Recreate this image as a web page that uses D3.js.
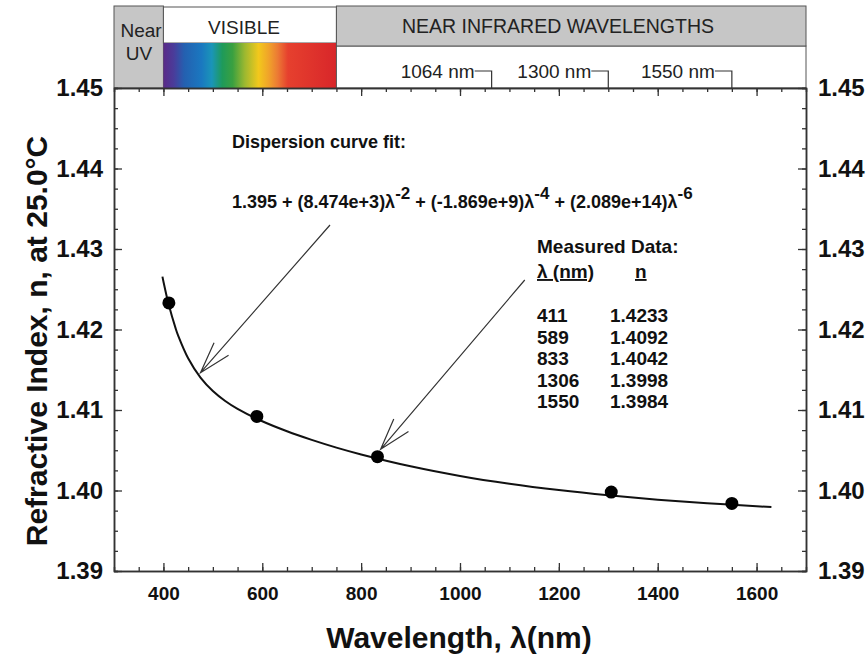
<!DOCTYPE html>
<html>
<head>
<meta charset="utf-8">
<title>Refractive index dispersion</title>
<script src="https://d3js.org/d3.v7.min.js"></script>
<style>
  body { margin: 0; background: #fff; }
  svg { display: block; font-family: Arial, "Liberation Sans", sans-serif; }
  .axis path, .axis line { stroke: #333; }
  .axis path { stroke-width: 1.5; }
  .axis line { stroke-width: 1.3; }
  .bold { font-weight: bold; fill: #111; }
</style>
</head>
<body>
<svg width="866" height="661"></svg>
<script>
// measured points (from the table)
let measWl = [411, 589, 833, 1306, 1550];
let measN = [1.4233, 1.4092, 1.4042, 1.3998, 1.3984];

// fitted dispersion curve
let curveWl = [398, 400, 410, 425, 430, 450, 475, 500, 525, 550, 600, 650, 700, 750, 800, 900, 1000, 1100, 1200, 1300, 1400, 1500, 1600, 1630];
let curveN = [1.42657, 1.42596, 1.42325, 1.42008, 1.41921, 1.41643, 1.41403, 1.41236, 1.41112, 1.41014, 1.40860, 1.40736, 1.40629, 1.40533, 1.40448, 1.40301, 1.40181, 1.40084, 1.40005, 1.39940, 1.39886, 1.39842, 1.39804, 1.39794];

let xTicks = [400, 600, 800, 1000, 1200, 1400, 1600];
let yTicks = [1.39, 1.40, 1.41, 1.42, 1.43, 1.44, 1.45];
let laserLines = [1064, 1300, 1550];

let svg = d3.select('svg');
let margin = {top: 88, bottom: 90, left: 114, right: 60};
let W = 866, H = 661;
let bandTop = 6;

let x = d3.scaleLinear().domain([300, 1700]).range([margin.left, W - margin.right]);
let y = d3.scaleLinear().domain([1.39, 1.45]).range([H - margin.bottom, margin.top]);

// ---- spectrum band on top ----
let defs = svg.append('defs');
let grad = defs.append('linearGradient').attr('id', 'spec');
[['0%', '#5a2a88'], ['6%', '#4a3c9a'], ['12%', '#2460b0'], ['22%', '#1a78c0'], ['28%', '#1a95b8'],
 ['34%', '#1e9a5a'], ['40%', '#3aa040'], ['47%', '#9cb830'], ['55%', '#f2c81c'], ['61%', '#f0a22a'],
 ['66%', '#ec7a34'], ['72%', '#e6402e'], ['100%', '#d8262a']]
  .forEach(s => grad.append('stop').attr('offset', s[0]).attr('stop-color', s[1]));

let band = svg.append('g');
band.append('rect')
  .attr('x', x(300)).attr('y', bandTop).attr('width', x(400) - x(300)).attr('height', margin.top - bandTop)
  .attr('fill', '#c6c6c6').attr('stroke', '#555').attr('stroke-width', 1);
band.append('rect')
  .attr('x', x(400)).attr('y', bandTop + 1).attr('width', x(750) - x(400)).attr('height', 36)
  .attr('fill', '#fff').attr('stroke', '#555').attr('stroke-width', 1);
band.append('rect')
  .attr('x', x(400)).attr('y', 43).attr('width', x(750) - x(400)).attr('height', margin.top - 43)
  .attr('fill', 'url(#spec)');
band.append('rect')
  .attr('x', x(750)).attr('y', 46).attr('width', x(1700) - x(750)).attr('height', margin.top - 46)
  .attr('fill', '#fff').attr('stroke', '#555').attr('stroke-width', 1);
band.append('rect')
  .attr('x', x(750)).attr('y', bandTop).attr('width', x(1700) - x(750)).attr('height', 40)
  .attr('fill', '#c6c6c6').attr('stroke', '#555').attr('stroke-width', 1);

band.append('text').attr('x', 141).attr('y', 37).attr('text-anchor', 'middle')
  .attr('font-size', 19).attr('fill', '#222').text('Near');
band.append('text').attr('x', 139).attr('y', 60).attr('text-anchor', 'middle')
  .attr('font-size', 19).attr('fill', '#222').text('UV');
band.append('text').attr('x', 244).attr('y', 34).attr('text-anchor', 'middle')
  .attr('font-size', 19).attr('fill', '#222').text('VISIBLE');
band.append('text').attr('x', 558).attr('y', 33).attr('text-anchor', 'middle')
  .attr('font-size', 19.5).attr('fill', '#222').text('NEAR INFRARED WAVELENGTHS');

let lasers = band.selectAll('.laser').data(laserLines).join('g').attr('class', 'laser');
lasers.append('text')
  .attr('x', d => x(d) - 17).attr('y', 78).attr('text-anchor', 'end')
  .attr('font-size', 19).attr('fill', '#222').text(d => d + ' nm');
lasers.append('path')
  .attr('d', d => `M${x(d) - 17},71H${x(d)}V${margin.top}`)
  .attr('fill', 'none').attr('stroke', '#333').attr('stroke-width', 1.2);

// ---- axes ----
let minorX = d3.range(350, 1700, 50);
let minorY = d3.range(1.39, 1.4501, 0.0025);
let bottomY = H - margin.bottom, rightX = W - margin.right;

function tickAxis(axis, tr) {
  return svg.append('g').attr('class', 'axis').attr('transform', tr).call(axis);
}
tickAxis(d3.axisBottom(x).tickValues(minorX).tickSize(-4).tickFormat(''), `translate(0,${bottomY})`);
let xb = tickAxis(d3.axisBottom(x).tickValues(xTicks).tickSize(-8).tickPadding(16).tickFormat(d3.format('d')).tickSizeOuter(0), `translate(0,${bottomY})`);
tickAxis(d3.axisTop(x).tickValues(minorX).tickSize(-4).tickFormat(''), `translate(0,${margin.top})`);
tickAxis(d3.axisTop(x).tickValues(xTicks).tickSize(-8).tickFormat('').tickSizeOuter(0), `translate(0,${margin.top})`);

tickAxis(d3.axisLeft(y).tickValues(minorY).tickSize(-4).tickFormat(''), `translate(${margin.left},0)`);
let yl = tickAxis(d3.axisLeft(y).tickValues(yTicks).tickSize(-8).tickPadding(11).tickFormat(d3.format('.2f')).tickSizeOuter(0), `translate(${margin.left},0)`);
tickAxis(d3.axisRight(y).tickValues(minorY).tickSize(-4).tickFormat(''), `translate(${rightX},0)`);
let yr = tickAxis(d3.axisRight(y).tickValues(yTicks).tickSize(-8).tickPadding(12).tickFormat(d3.format('.2f')).tickSizeOuter(0), `translate(${rightX},0)`);

xb.selectAll('text').attr('class', 'bold').attr('font-size', 19).attr('font-family', null);
yl.selectAll('text').attr('class', 'bold').attr('font-size', 24).attr('font-family', null);
yr.selectAll('text').attr('class', 'bold').attr('font-size', 24).attr('font-family', null);

// axis titles
svg.append('text').attr('class', 'bold')
  .attr('x', 459).attr('y', 648).attr('text-anchor', 'middle').attr('font-size', 30)
  .text('Wavelength,  \u03bb(nm)');
svg.append('text').attr('class', 'bold')
  .attr('transform', 'translate(47,341) rotate(-90)').attr('text-anchor', 'middle').attr('font-size', 30)
  .text('Refractive Index, n, at 25.0\u00b0C');

// ---- curve + points ----
let line = d3.line().x(d => x(d[0])).y(d => y(d[1])).curve(d3.curveCatmullRom);
svg.append('path')
  .datum(d3.zip(curveWl, curveN))
  .attr('d', line)
  .attr('fill', 'none').attr('stroke', '#111').attr('stroke-width', 2);

svg.selectAll('.pt').data(d3.zip(measWl, measN)).join('circle')
  .attr('class', 'pt')
  .attr('cx', d => x(d[0])).attr('cy', d => y(d[1])).attr('r', 6.5)
  .attr('fill', '#000');

// ---- annotations ----
let arrows = [
  {from: [737, 1.43298], to: [475, 1.41463]},
  {from: [1131, 1.42615], to: [839.5, 1.40512]}
];
arrows.forEach(a => {
  let x0 = x(a.from[0]), y0 = y(a.from[1]), x1 = x(a.to[0]), y1 = y(a.to[1]);
  let ang = Math.atan2(y0 - y1, x0 - x1);
  let len = 33, spread = 17 * Math.PI / 180;
  let b1 = [x1 + len * Math.cos(ang - spread), y1 + len * Math.sin(ang - spread)];
  let b2 = [x1 + len * Math.cos(ang + spread), y1 + len * Math.sin(ang + spread)];
  svg.append('path')
    .attr('d', `M${x0},${y0}L${x1},${y1}M${b1[0]},${b1[1]}L${x1},${y1}L${b2[0]},${b2[1]}`)
    .attr('fill', 'none').attr('stroke', '#333').attr('stroke-width', 1.2);
});

svg.append('text').attr('class', 'bold').attr('font-size', 18)
  .attr('x', 232).attr('y', 148).text('Dispersion curve fit:');

let eq = svg.append('text').attr('class', 'bold').attr('font-size', 18).attr('x', 232).attr('y', 208);
let eqParts = [['1.395 + (8.474e+3)\u03bb', '-2'], [' + (-1.869e+9)\u03bb', '-4'], [' + (2.089e+14)\u03bb', '-6']];
eqParts.forEach((p, i) => {
  eq.append('tspan').attr('dy', i === 0 ? 0 : 9).text(p[0]);
  eq.append('tspan').attr('dy', -9).attr('font-size', 17).text(p[1]);
});

let tbl = svg.append('g').attr('class', 'bold').attr('font-size', 19);
tbl.append('text').attr('x', 537).attr('y', 253).text('Measured Data:');
tbl.append('text').attr('x', 537).attr('y', 278).attr('text-decoration', 'underline').text('\u03bb (nm)');
tbl.append('text').attr('x', 635).attr('y', 278).attr('text-decoration', 'underline').text('n');
tbl.selectAll('.wl').data(measWl).join('text').attr('class', 'wl')
  .attr('x', 537).attr('y', (d, i) => 322 + i * 21.6).text(d => d);
tbl.selectAll('.nv').data(measN).join('text').attr('class', 'nv')
  .attr('x', 610).attr('y', (d, i) => 322 + i * 21.6).text(d => d3.format('.4f')(d));
</script>
</body>
</html>
